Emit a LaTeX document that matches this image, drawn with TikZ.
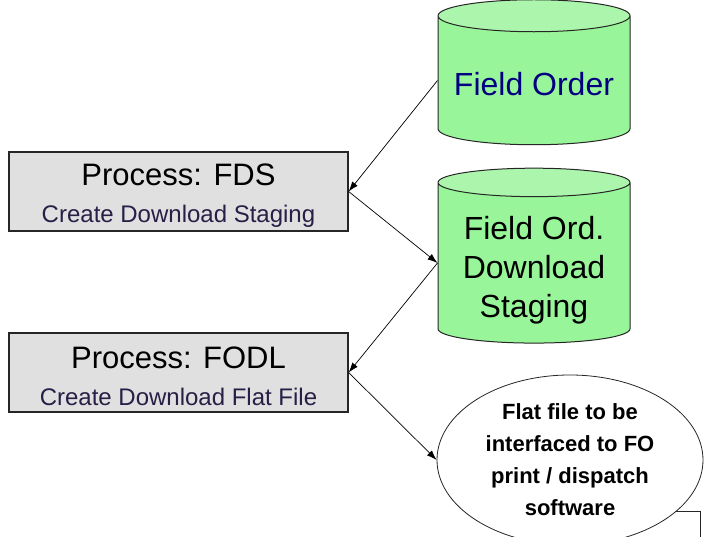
\documentclass[tikz,border=0pt]{standalone}
\usepackage{fontspec}
\setmainfont{Liberation Sans}
\usetikzlibrary{shapes.geometric,arrows.meta}
\definecolor{boxgrey}{RGB}{224,224,224}
\definecolor{dbgreen}{RGB}{153,245,153}
\definecolor{dbtop}{RGB}{172,245,172}
\definecolor{fonavy}{RGB}{0,0,128}
\definecolor{subink}{RGB}{40,30,70}
\newcommand{\padline}[1]{\rule{0pt}{#1}}
\begin{document}
\begin{tikzpicture}[x=1pt,y=-1pt,
    procbox/.style={draw=black!85,line width=1.3pt,fill=boxgrey,minimum width=339pt,
      minimum height=79pt,inner sep=0pt,align=center,font=\fontsize{31}{37}\selectfont},
    dbstore/.style={cylinder,shape border rotate=90,aspect=0.2,draw=black!85,line width=1pt,
      cylinder uses custom fill,cylinder body fill=dbgreen,cylinder end fill=dbtop,
      minimum width=192pt,minimum height=145pt,inner sep=0pt,
      font=\fontsize{32}{39}\selectfont},
    bubble/.style={ellipse,draw=black!85,line width=0.8pt,fill=white,minimum width=266pt,
      minimum height=170pt,inner sep=0pt,align=center,font=\bfseries\fontsize{22}{32}\selectfont},
    flow/.style={-{Latex[length=10pt,width=7pt]},line width=0.7pt}]
    \useasboundingbox (0,0) rectangle (705,537);
    \clip (0,0) rectangle (705,537);

    % process boxes
    \node[procbox] (fds) at (178.5,191.5) {\padline{30pt}Process: FDS\\
      {\fontsize{24}{28}\selectfont\color{subink}Create Download Staging}};
    \node[procbox] (fodl) at (178.5,372.5) {\padline{30pt}Process: FODL\\
      {\fontsize{24}{28}\selectfont\color{subink}Create Download Flat File}};

    % tables
    \node[dbstore,text=fonavy] (fo) at (534,80.5) {\padline{31pt}Field Order};
    \node[dbstore] (fods) at (534,263)
      {\begin{tabular}{@{}c@{}}\padline{42pt}Field Ord.\\Download\\Staging\end{tabular}};

    % output file
    \coordinate (tailend) at (700,560);
    \node[bubble] (flat) at (570,460) {Flat file to be\\interfaced to FO\\print / dispatch\\software};
    \draw[line width=0.8pt,black!85] (flat.-26) -| (tailend);

    \draw[flow] (fo.west) -- (fds.east);
    \draw[flow] (fds.east) -- (fods.west);
    \draw[flow] (fods.west) -- (fodl.east);
    \draw[flow] (fodl.east) -- (flat.west);
\end{tikzpicture}
\end{document}
